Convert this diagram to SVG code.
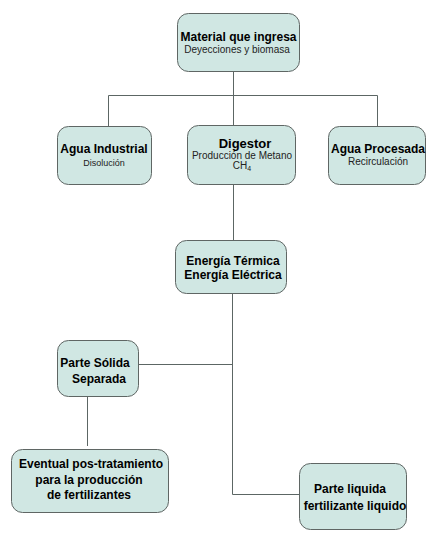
<svg xmlns="http://www.w3.org/2000/svg" width="439" height="544" viewBox="0 0 439 544">
<style>
.box{fill:#d0e7e3;stroke:#5f6664;stroke-width:1}
.ln{fill:none;stroke:#5c6664;stroke-width:1}
.t{font-family:"Liberation Sans",Arial,sans-serif;font-weight:bold;font-size:12px;fill:#000;text-anchor:middle}
.s{font-family:"Liberation Sans",Arial,sans-serif;font-size:10px;fill:#222;text-anchor:middle}
</style>
<rect width="439" height="544" fill="#fff"/>
<g id="connectors">
<path class="ln" d="M233.5 72 V125"/>
<path class="ln" d="M108.5 126 V95.5 H377.5 V126"/>
<path class="ln" d="M233.5 185 V240"/>
<path class="ln" d="M232.5 293 V494.5 H300"/>
<path class="ln" d="M139 364.5 H232.5"/>
<path class="ln" d="M87.5 396 V446"/>
</g>
<g id="material">
<rect class="box" x="177.5" y="13.5" width="122" height="58" rx="11"/>
<text class="t" x="238.5" y="41">Material que ingresa</text>
<text class="s" x="237" y="53">Deyecciones y biomasa</text>
</g>
<g id="agua-industrial">
<rect class="box" x="57.5" y="126.5" width="94" height="58" rx="11"/>
<text class="t" x="104" y="153">Agua Industrial</text>
<text class="s" x="104" y="166" style="font-size:9px">Disolución</text>
</g>
<g id="digestor">
<rect class="box" x="187.5" y="125.5" width="108" height="59" rx="11"/>
<text class="t" x="245" y="148" style="font-size:13px">Digestor</text>
<text class="s" x="242" y="159">Producción de Metano</text>
<text class="s" x="242" y="169">CH<tspan style="font-size:7px" dy="2">4</tspan></text>
</g>
<g id="agua-procesada">
<rect class="box" x="328.5" y="126.5" width="97" height="58" rx="11"/>
<text class="t" x="378" y="153">Agua Procesada</text>
<text class="s" x="378" y="165">Recirculación</text>
</g>
<g id="energia">
<rect class="box" x="175.5" y="240.5" width="111" height="53" rx="11"/>
<text class="t" x="233" y="265">Energía Térmica</text>
<text class="t" x="233" y="279">Energía Eléctrica</text>
</g>
<g id="parte-solida">
<rect class="box" x="57.5" y="340.5" width="81" height="56" rx="11"/>
<text class="t" x="95" y="367">Parte Sólida</text>
<text class="t" x="99" y="383">Separada</text>
</g>
<g id="eventual">
<rect class="box" x="11.5" y="449.5" width="157" height="63" rx="11"/>
<text class="t" x="91" y="468">Eventual pos-tratamiento</text>
<text class="t" x="89" y="484">para la producción</text>
<text class="t" x="89" y="499">de fertilizantes</text>
</g>
<g id="parte-liquida">
<rect class="box" x="299.5" y="463.5" width="107" height="66" rx="11"/>
<text class="t" x="350" y="493">Parte liquida</text>
<text class="t" x="355" y="510">fertilizante liquido</text>
</g>
</svg>
